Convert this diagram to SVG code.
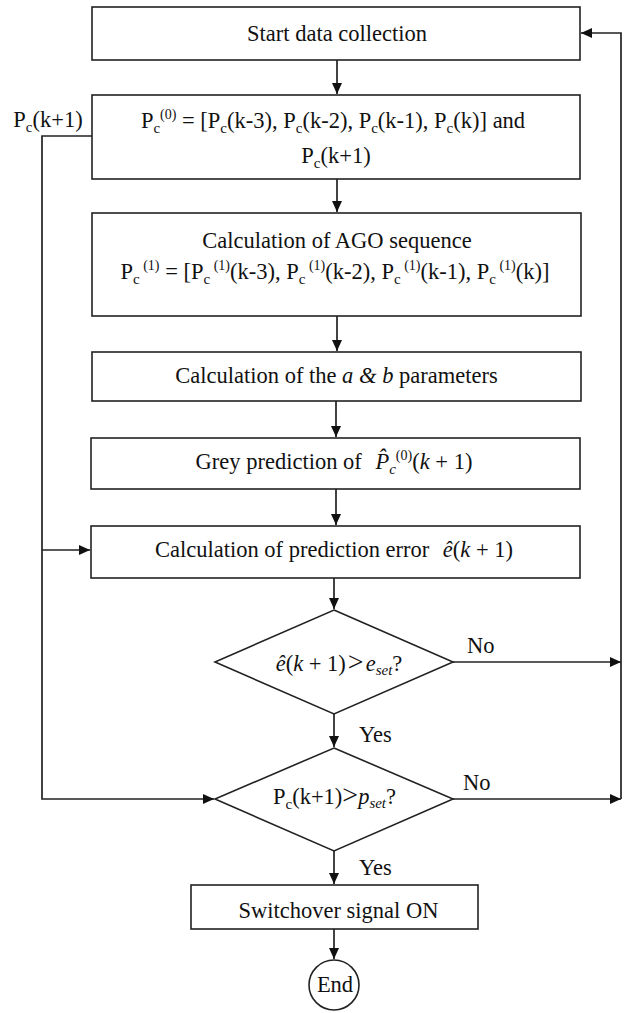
<svg xmlns="http://www.w3.org/2000/svg" width="624" height="1013" viewBox="0 0 624 1013">
<style>
text{font-family:"Liberation Serif","Times New Roman",serif;font-size:22.5px;fill:#111}
.node rect,.node polygon,.node circle{fill:#fff;stroke:#222;stroke-width:1.6}
.conn path{fill:none;stroke:#222;stroke-width:1.7}
.m{text-anchor:middle}
.sb{font-size:15px}
.sp{font-size:14px}
.i{font-style:italic}
</style>
<defs>
<marker id="ah" markerUnits="userSpaceOnUse" markerWidth="12" markerHeight="11" refX="11" refY="5" orient="auto">
<path d="M0,0 L11,5 L0,10 z" fill="#111"/>
</marker>
</defs>
<g class="conn" id="connectors">
<path d="M337,60 V94" marker-end="url(#ah)"/>
<path d="M337,179 V212" marker-end="url(#ah)"/>
<path d="M337,316 V351" marker-end="url(#ah)"/>
<path d="M336,401 V437" marker-end="url(#ah)"/>
<path d="M336,489 V525" marker-end="url(#ah)"/>
<path d="M334,578 V609" marker-end="url(#ah)"/>
<path d="M334,714 V747" marker-end="url(#ah)"/>
<path d="M334,851 V884" marker-end="url(#ah)"/>
<path d="M334,929 V959" marker-end="url(#ah)"/>
<path d="M453,662 H621" marker-end="url(#ah)"/>
<path d="M453,799 H621" marker-end="url(#ah)"/>
<path d="M621,799 V33 H581" marker-end="url(#ah)"/>
<path d="M92,136 H42 V799 H214" marker-end="url(#ah)"/>
<path d="M42,550 H90" marker-end="url(#ah)"/>
</g>
<g class="node" id="start">
<rect x="92" y="7" width="488" height="53"/>
<text class="m" x="337" y="41">Start data collection</text>
</g>
<g class="node" id="input">
<rect x="92" y="95" width="488" height="84"/>
<text class="m" x="333" y="128">P<tspan class="sb" dy="5">c</tspan><tspan class="sp" dy="-14">(0)</tspan><tspan dy="9"> = [P</tspan><tspan class="sb" dy="5">c</tspan><tspan dy="-5">(k-3), P</tspan><tspan class="sb" dy="5">c</tspan><tspan dy="-5">(k-2), P</tspan><tspan class="sb" dy="5">c</tspan><tspan dy="-5">(k-1), P</tspan><tspan class="sb" dy="5">c</tspan><tspan dy="-5">(k)] and</tspan></text>
<text class="m" x="336" y="163">P<tspan class="sb" dy="5">c</tspan><tspan dy="-5">(k+1)</tspan></text>
</g>
<text id="pc-label" class="m" x="48" y="127">P<tspan class="sb" dy="5">c</tspan><tspan dy="-5">(k+1)</tspan></text>
<g class="node" id="ago">
<rect x="92" y="213" width="489" height="103"/>
<text class="m" x="337" y="248">Calculation of AGO sequence</text>
<text class="m" x="335" y="279">P<tspan class="sb" dy="5">c</tspan><tspan class="sp" dy="-14"> (1)</tspan><tspan dy="9"> = [P</tspan><tspan class="sb" dy="5">c</tspan><tspan class="sp" dy="-14"> (1)</tspan><tspan dy="9">(k-3), P</tspan><tspan class="sb" dy="5">c</tspan><tspan class="sp" dy="-14"> (1)</tspan><tspan dy="9">(k-2), P</tspan><tspan class="sb" dy="5">c</tspan><tspan class="sp" dy="-14"> (1)</tspan><tspan dy="9">(k-1), P</tspan><tspan class="sb" dy="5">c</tspan><tspan class="sp" dy="-14"> (1)</tspan><tspan dy="9">(k)]</tspan></text>
</g>
<g class="node" id="params">
<rect x="92" y="352" width="489" height="49"/>
<text class="m" x="336.5" y="383">Calculation of the <tspan class="i">a</tspan> <tspan class="i">&amp;</tspan> <tspan class="i">b</tspan> parameters</text>
</g>
<g class="node" id="grey">
<rect x="91" y="438" width="489" height="51"/>
<text class="m" x="334" y="469">Grey prediction of <tspan class="i" dx="8">P̂</tspan><tspan class="sb i" dy="5">c</tspan><tspan class="sp" dy="-14">(0)</tspan><tspan dy="9">(</tspan><tspan class="i">k</tspan> + 1)</text>
</g>
<g class="node" id="error">
<rect x="91" y="526" width="489" height="52"/>
<text class="m" x="334" y="557">Calculation of prediction error <tspan class="i" dx="8">ê</tspan>(<tspan class="i">k</tspan> + 1)</text>
</g>
<g class="node" id="dec1">
<polygon points="334,610 453,662 334,714 215,662"/>
<text class="m" x="339" y="671"><tspan class="i">ê</tspan>(<tspan class="i">k</tspan> + 1)<tspan font-size="28" dx="2">&gt;</tspan><tspan class="i" dx="2">e</tspan><tspan class="sb i" dy="4">set</tspan><tspan dy="-4">?</tspan></text>
</g>
<text x="467" y="653">No</text>
<text x="359" y="742">Yes</text>
<g class="node" id="dec2">
<polygon points="334,748 453,799 334,851 215,799"/>
<text class="m" x="334.5" y="804">P<tspan class="sb" dy="5">c</tspan><tspan dy="-5">(k+1)</tspan><tspan font-size="28">&gt;</tspan><tspan class="i">p</tspan><tspan class="sb i" dy="4">set</tspan><tspan dy="-4">?</tspan></text>
</g>
<text x="463" y="790">No</text>
<text x="359" y="875">Yes</text>
<g class="node" id="switch">
<rect x="191" y="885" width="287" height="44"/>
<text class="m" x="338.5" y="918">Switchover signal ON</text>
</g>
<g class="node" id="end">
<circle cx="334" cy="985" r="25"/>
<text class="m" x="335" y="992">End</text>
</g>
</svg>
